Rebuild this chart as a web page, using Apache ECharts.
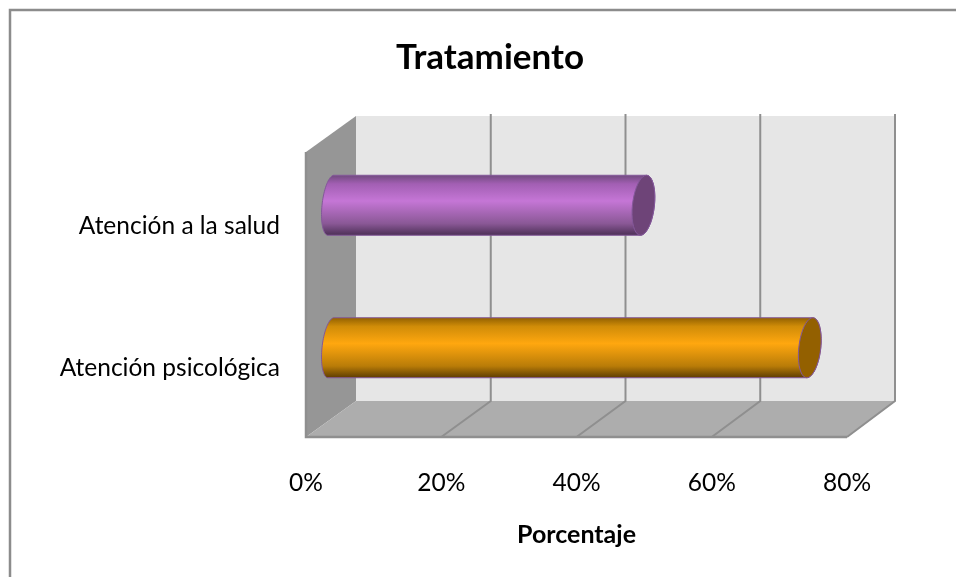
<!DOCTYPE html>
<html>
<head>
<meta charset="utf-8">
<script src="https://cdn.jsdelivr.net/npm/echarts@6/dist/echarts.min.js"></script>
<style>
  html, body { margin: 0; padding: 0; background: #fff; }
  #chart { width: 956px; height: 577px; }
</style>
</head>
<body>
<div id="chart"></div>
<script>
const categories = ['Atención psicológica', 'Atención a la salud']
const values = [70.8, 46.2]
const xTicks = [0, 20, 40, 60, 80]

// one colour set per bar: body gradient from top to bottom, end cap
const barColors = [
  { stops: ['#8f5f00', '#d08c08', '#ffa70f', '#b97c08', '#5a3a02'], cap: '#936000' },
  { stops: ['#6f4a7d', '#a25fb3', '#c576d6', '#8a5896', '#4a2e54'], cap: '#6e4478' }
]
const stopOffsets = [0, 0.15, 0.43, 0.8, 1]

// depth of the fake 3d box, in pixels; the back wall is a little narrower
const DEPTH_X = 50
const DEPTH_Y = -36
const BACK_SCALE = 539 / 541
const GRID_LINE = '#8f8f8f'
const FONT = 'Lato'

function renderBox(params, api) {
  const cs = params.coordSys
  const back = (p) => [cs.x + DEPTH_X + (p[0] - cs.x) * BACK_SCALE, p[1] + DEPTH_Y]
  const bl = [cs.x, cs.y + cs.height]
  const br = [cs.x + cs.width, cs.y + cs.height]
  const tl = [cs.x, cs.y]
  const tr = [cs.x + cs.width, cs.y]
  const children = [
    { type: 'polygon', shape: { points: [back(tl), back(tr), back(br), back(bl)] }, style: { fill: '#e6e6e6' } },
    { type: 'polygon', shape: { points: [tl, back(tl), back(bl), bl] }, style: { fill: '#969696' } },
    { type: 'polygon', shape: { points: [bl, br, back(br), back(bl)] }, style: { fill: '#adadad' } }
  ]
  xTicks.forEach((t) => {
    const x = api.coord([t, 0])[0]
    if (t > 0) {
      const top = back([x, cs.y])
      children.push({
        type: 'polyline',
        shape: { points: [[top[0], top[1] - 2], back([x, cs.y + cs.height]), [x, cs.y + cs.height]] },
        style: { stroke: GRID_LINE, lineWidth: 2, fill: null }
      })
    }
  })
  children.push({
    type: 'polyline',
    shape: { points: [tl, bl, br] },
    style: { stroke: GRID_LINE, lineWidth: 2.5, fill: null }
  })
  return { type: 'group', children }
}

function ellipsePoints(cx, cy, rx, ry, shear, from, to) {
  const pts = []
  for (let i = 0; i <= 40; i++) {
    const t = from + ((to - from) * i) / 40
    pts.push([cx + rx * Math.cos(t) - shear * Math.sin(t), cy + ry * Math.sin(t)])
  }
  return pts
}

function renderBar(params, api) {
  const colors = barColors[api.value(2)]
  const start = api.coord([0, api.value(1)])
  const end = api.coord([api.value(0), api.value(1)])
  // the cylinder sits half way into the box
  const x0 = start[0] + DEPTH_X / 2
  const x1 = end[0] + DEPTH_X / 2
  const cy = start[1] + DEPTH_Y / 2
  const ry = 30
  const shear = 3
  const body = ellipsePoints(x0, cy, 9, ry, shear, Math.PI * 1.5, Math.PI * 0.5)
    .concat(ellipsePoints(x1, cy, 11, ry, shear, Math.PI * 0.5, -Math.PI * 0.5))
  return {
    type: 'group',
    children: [
      {
        type: 'polygon',
        shape: { points: body },
        style: {
          fill: new echarts.graphic.LinearGradient(
            0, 0, 0, 1,
            colors.stops.map((color, i) => ({ offset: stopOffsets[i], color }))
          ),
          stroke: '#84589a',
          lineWidth: 1
        }
      },
      {
        type: 'polygon',
        shape: { points: ellipsePoints(x1, cy, 11, ry, shear, 0, Math.PI * 2) },
        style: { fill: colors.cap, stroke: '#84589a', lineWidth: 1 }
      }
    ]
  }
}

const chart = echarts.init(document.getElementById('chart'), null, { renderer: 'canvas' })
chart.setOption({
  animation: false,
  backgroundColor: '#fff',
  title: {
    text: 'Tratamiento',
    left: 485,
    top: 35,
    textAlign: 'center',
    textStyle: { fontFamily: FONT, fontSize: 35, fontWeight: 'bold', color: '#000' }
  },
  grid: { left: 306, top: 152, width: 541, height: 285 },
  xAxis: {
    type: 'value',
    min: 0,
    max: 80,
    interval: 20,
    name: 'Porcentaje',
    nameLocation: 'middle',
    nameGap: 85,
    nameTextStyle: { fontFamily: FONT, fontSize: 25, fontWeight: 'bold', color: '#000' },
    axisLine: { show: false },
    axisTick: { show: false },
    splitLine: { show: false },
    axisLabel: {
      margin: 34,
      fontFamily: FONT,
      fontSize: 24.5,
      color: '#000',
      formatter: '{value}%'
    }
  },
  yAxis: {
    type: 'category',
    data: categories,
    axisLine: { show: false },
    axisTick: { show: false },
    splitLine: { show: false },
    // short line box hung from the tick moves the text just under the band centre
    axisLabel: { margin: 26, fontFamily: FONT, fontSize: 24.5, color: '#000', verticalAlign: 'top', lineHeight: 5 }
  },
  graphic: [
    {
      type: 'polyline',
      silent: true,
      shape: { points: [[10, 577], [10, 10], [956, 10]] },
      style: { stroke: '#8c8c8c', lineWidth: 2.5, fill: null }
    }
  ],
  series: [
    {
      type: 'custom',
      silent: true,
      renderItem: renderBox,
      data: [[0, 0]],
      encode: { x: 0, y: 1 },
      z: 1
    },
    {
      type: 'custom',
      silent: true,
      renderItem: renderBar,
      data: values.map((v, i) => [v, i, i]),
      encode: { x: 0, y: 1 },
      z: 2
    }
  ]
})
</script>
</body>
</html>
